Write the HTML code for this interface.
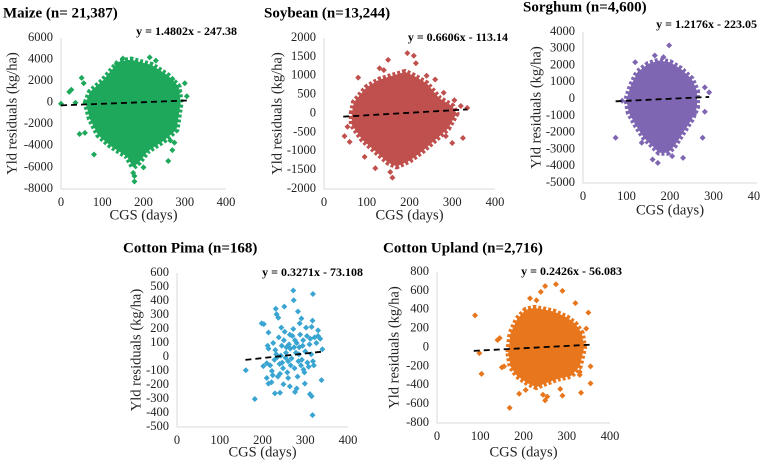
<!DOCTYPE html>
<html><head><meta charset="utf-8"><style>
html,body{margin:0;padding:0;background:#fff;}
svg{display:block;font-family:"Liberation Serif",serif;}
</style></head><body>
<svg id="fig" width="760" height="463" viewBox="0 0 760 463" xmlns="http://www.w3.org/2000/svg"></svg>
<script>
// ---- data arrays ----
const panelNames = ["maize","soybean","sorghum","cotton-pima","cotton-upland"];
const titles = ["Maize (n= 21,387)","Soybean (n=13,244)","Sorghum (n=4,600)","Cotton Pima (n=168)","Cotton Upland (n=2,716)"];
const equations = ["y = 1.4802x - 247.38","y = 0.6606x - 113.14","y = 1.2176x - 223.05","y = 0.3271x - 73.108","y = 0.2426x - 56.083"];
const slopes = [1.4802,0.6606,1.2176,0.3271,0.2426];
const intercepts = [-247.38,-113.14,-223.05,-73.108,-56.083];
const trendStart = [0,45,75,160,85];
const trendEnd = [305,335,290,340,355];
const yMins = [-8000,-2000,-5000,-500,-800];
const yMaxs = [6000,2000,4000,600,800];
const yTickSteps = [2000,500,1000,100,200];
const xTickLabels = [0,100,200,300,400];
const colors = ["#1ea85c","#c0504d","#7f66b3","#3aa5d2","#e8761c"];

// dense core outlines (x days, y kg/ha)
const maizeCore = [[60,0],[70,1000],[100,2000],[140,3800],[170,4000],[220,3500],[260,2500],[285,1500],[290,0],[280,-2500],[250,-3500],[210,-4500],[190,-5500],[175,-6000],[160,-5000],[120,-4000],[90,-3000],[70,-1500]];
const maizeOutliers = [[0,-100],[35,0],[20,1000],[25,1200],[50,2300],[55,1800],[45,-2900],[58,-2800],[80,-4800],[178,-7300],[178,-6800],[175,-6500],[200,-6000],[260,-5400],[270,-4400],[265,-3500],[275,-3700],[300,1800],[305,600],[285,1000],[270,2200],[215,4200],[150,4100],[135,3600],[230,3900]];
const soyCore = [[65,0],[70,300],[100,700],[130,900],[160,1000],[190,1100],[210,1000],[240,800],[270,400],[300,200],[310,0],[290,-400],[260,-700],[230,-1000],[200,-1250],[170,-1400],[150,-1300],[120,-1000],[90,-700],[65,-300]];
const soyOutliers = [[48,-600],[55,-350],[60,-750],[80,950],[95,-1150],[120,-1450],[150,1420],[160,-1700],[155,-1550],[195,1600],[210,1530],[215,1330],[240,1000],[260,900],[280,550],[300,-780],[285,-600],[325,-650],[335,150],[320,200],[305,350],[130,1200],[140,1150]];
const sorCore = [[100,0],[110,800],[125,1600],[150,2100],[175,2300],[200,2200],[225,1800],[250,1200],[262,500],[262,-500],[250,-1200],[230,-2000],[210,-2800],[195,-3200],[175,-3200],[160,-2800],[140,-2300],[120,-1500],[105,-800]];
const sorOutliers = [[75,-2300],[90,-100],[120,2200],[165,2600],[198,3200],[185,2500],[205,-3400],[230,-3500],[172,-3800],[160,-3600],[275,-2300],[280,700],[290,400],[280,-750],[135,-2600],[255,-900]];
const pimaCore = [];
const pimaPoints = [[161,-95],[182,-300],[198,240],[203,235],[214,175],[212,80],[210,-45],[202,-65],[210,-150],[214,-190],[221,-180],[229,-260],[241,-255],[231,345],[233,305],[237,280],[251,360],[272,475],[273,405],[318,450],[283,325],[291,275],[287,240],[317,260],[315,215],[330,190],[340,55],[338,-165],[315,-280],[311,-265],[317,-415],[299,-190],[280,-225],[276,-250],[264,-210],[249,-195],[260,-150],[241,-120],[225,100],[230,50],[235,0],[240,-50],[245,80],[250,120],[255,30],[260,-30],[265,60],[270,150],[275,-80],[280,100],[285,20],[290,-60],[295,120],[300,40],[305,-40],[310,90],[222,-100],[228,-20],[238,140],[248,-80],[252,180],[258,-110],[262,90],[268,-10],[272,200],[278,30],[282,-140],[288,160],[292,-20],[298,-110],[302,210],[308,-70],[312,130],[318,-30],[322,140],[326,100],[232,20],[243,10],[246,-40],[256,70],[266,-60],[276,120],[286,70],[296,-90],[214,60],[218,-60],[224,-130],[236,-140],[244,210],[254,-5],[264,160],[274,70],[284,-30],[294,80],[304,150],[314,20],[320,-60],[330,150],[335,130]];
const uplCore = [[165,-50],[170,150],[185,300],[205,400],[225,420],[250,400],[270,380],[300,320],[320,250],[335,150],[340,0],[330,-200],[310,-300],[280,-330],[250,-380],[230,-420],[210,-380],[185,-300],[170,-200]];
const uplOutliers = [[88,340],[98,-60],[103,-280],[140,80],[145,100],[150,-210],[155,-200],[168,-640],[190,-490],[205,-450],[245,-500],[250,-560],[255,-520],[290,-510],[333,-480],[355,-380],[355,-200],[345,200],[350,370],[320,470],[275,670],[250,650],[240,590],[290,600],[215,520],[230,500],[285,-440],[330,-260],[330,-290]];
const cores = [maizeCore,soyCore,sorCore,pimaCore,uplCore];
const outliers = [maizeOutliers,soyOutliers,sorOutliers,pimaPoints,uplOutliers];

// ---- layout (pixels, not data) ----
const L = [
 {x0:61,x1:226,y0:38,y1:189,tx:3,ty:14,ex:237,ey:32,xl:203,xt:216,yt:13},
 {x0:324,x1:495,y0:38,y1:189,tx:264,ty:14,ex:508,ey:38,xl:203,xt:216,yt:278},
 {x0:583,x1:757,y0:32,y1:183,tx:523,ty:8,ex:757,ey:25,xl:197,xt:211,yt:537},
 {x0:177,x1:348,y0:273,y1:427,tx:123,ty:249,ex:363,ey:273,xl:441,xt:453,yt:137},
 {x0:437,x1:610,y0:272,y1:423,tx:383,ty:249,ex:622,ey:272,xl:437,xt:453,yt:395}
];
const NS="http://www.w3.org/2000/svg";
const svg=document.getElementById('fig');
function mk(tag,attrs,parent){const e=document.createElementNS(NS,tag);for(const k in attrs)e.setAttribute(k,attrs[k]);(parent||svg).appendChild(e);return e;}

for(let i=0;i<5;i++){
  const g=L[i];
  const grp=mk('g',{});
  
  
  const sx=v=>g.x0+(v-0)/(400-0)*(g.x1-g.x0);
  const sy=v=>g.y0+(yMaxs[i]-v)/(yMaxs[i]-yMins[i])*(g.y1-g.y0);
  const ya=mk('line',{x1:g.x0,y1:g.y0,x2:g.x0,y2:g.y1,stroke:'#d9d9d9','stroke-width':1},grp);
  
  
  const xa=mk('line',{x1:g.x0,y1:g.y1,x2:g.x1,y2:g.y1,stroke:'#d9d9d9','stroke-width':1},grp);
  
  
  for(let v=yMins[i];v<=yMaxs[i]+1e-6;v+=yTickSteps[i]){
    const t=mk('text',{x:g.x0-8,y:sy(v),'text-anchor':'end','dominant-baseline':'middle','font-size':12.5,fill:'#222'},grp);
    t.textContent=String(v);
    
    
  }
  xTickLabels.forEach(v=>{
    const t=mk('text',{x:sx(v),y:g.xl,'text-anchor':'middle','dominant-baseline':'middle','font-size':12.5,fill:'#222'},grp);
    t.textContent=String(v);
    
    
  });
  if(cores[i].length){
    const pts=cores[i].map(p=>sx(p[0])+','+sy(p[1])).join(' ');
    const poly=mk('polygon',{points:pts,fill:colors[i],stroke:colors[i],'stroke-width':6,'stroke-linejoin':'round','stroke-dasharray':'3,2'},grp);
    
    
  }
  outliers[i].forEach(p=>{
    const x=sx(p[0]),y=sy(p[1]);
    const d=mk('polygon',{points:`${x},${y-3} ${x+3},${y} ${x},${y+3} ${x-3},${y}`,fill:colors[i]},grp);
    
    
  });
  const a=trendStart[i],b=trendEnd[i];
  const tl=mk('line',{x1:sx(a),y1:sy(slopes[i]*a+intercepts[i]),x2:sx(b),y2:sy(slopes[i]*b+intercepts[i]),stroke:'#000','stroke-width':1.8,'stroke-dasharray':'6,4'},grp);
  
  
  const ti=mk('text',{x:g.tx,y:g.ty,'dominant-baseline':'middle','font-size':15,'font-weight':'bold',fill:'#000'},grp);
  ti.textContent=titles[i];
  
  
  const eq=mk('text',{x:g.ex,y:g.ey,'text-anchor':'end','dominant-baseline':'middle','font-size':12,'font-weight':'bold',fill:'#000'},grp);
  eq.textContent=equations[i];
  
  
  const xt=mk('text',{x:(g.x0+g.x1)/2,y:g.xt,'text-anchor':'middle','dominant-baseline':'middle','font-size':14.5,fill:'#222'},grp);
  xt.textContent='CGS (days)';
  
  
  const cy=(g.y0+g.y1)/2;
  const yt=mk('text',{x:g.yt,y:cy,'text-anchor':'middle','dominant-baseline':'middle','font-size':14.5,fill:'#222',transform:`rotate(-90 ${g.yt} ${cy})`},grp);
  yt.textContent='Yld residuals (kg/ha)';
  
  
}
</script>
</body></html>
